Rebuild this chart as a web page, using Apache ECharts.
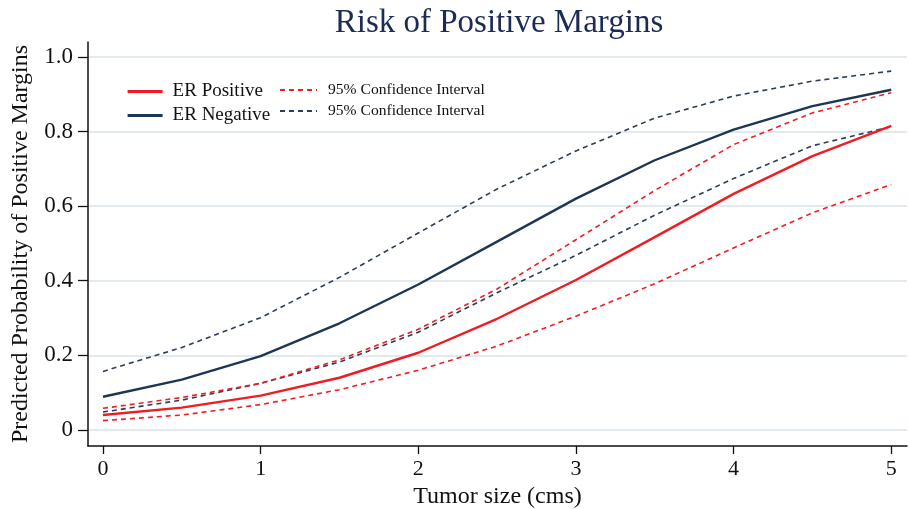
<!DOCTYPE html>
<html>
<head>
    <meta charset="utf-8">
    <title>Risk of Positive Margins</title>
    <script src="https://cdn.jsdelivr.net/npm/echarts@6/dist/echarts.min.js"></script>
    <style>
        html, body { margin: 0; padding: 0; background: #fff; }
        #chart { width: 910px; height: 509px; }
    </style>
</head>
<body>
<div id="chart"></div>
<script type="text/javascript">

    // tumor size (cms)
    var sizes = [0, 0.5, 1, 1.5, 2, 2.5, 3, 3.5, 4, 4.5, 5];
    var xTicks = [0, 1, 2, 3, 4, 5];
    var yTicks = [0, 0.2, 0.4, 0.6, 0.8, 1.0];

    // predicted probability, ER positive
    var erPos   = [0.040, 0.060, 0.092, 0.140, 0.207, 0.298, 0.402, 0.517, 0.633, 0.734, 0.815];
    var erPosLo = [0.025, 0.040, 0.068, 0.108, 0.160, 0.225, 0.305, 0.392, 0.488, 0.582, 0.658];
    var erPosHi = [0.058, 0.087, 0.125, 0.188, 0.270, 0.378, 0.510, 0.642, 0.765, 0.850, 0.904];

    // predicted probability, ER negative
    var erNeg   = [0.089, 0.135, 0.198, 0.286, 0.390, 0.505, 0.620, 0.723, 0.805, 0.868, 0.912];
    var erNegLo = [0.048, 0.080, 0.125, 0.182, 0.262, 0.368, 0.468, 0.576, 0.674, 0.762, 0.813];
    var erNegHi = [0.157, 0.221, 0.301, 0.409, 0.528, 0.646, 0.748, 0.836, 0.895, 0.935, 0.962];

    var RED = '#ee1d23';
    var NAVY = '#1e3656';
    var NAVY_DASH = '#2c3e56';
    var SERIF = '"Liberation Serif", "DejaVu Serif", serif';

    function pairs(ys) {
        var out = [];
        for (var i = 0; i < sizes.length; i++) out.push([sizes[i], ys[i]]);
        return out;
    }

    function line(name, ys, color, dashed) {
        return {
            name: name,
            type: 'line',
            data: pairs(ys),
            symbol: 'none',
            smooth: false,
            silent: true,
            lineStyle: dashed
                ? { color: color, width: 1.6, type: [5, 4] }
                : { color: color, width: 2.4 },
            itemStyle: { color: color }
        };
    }

    var myChart = echarts.init(document.getElementById('chart'));

    // legend: line only, no dot in the middle
    var legendDot = { opacity: 0, borderWidth: 0 };

    var option = {
        animation: false,
        backgroundColor: '#fff',
        title: {
            text: 'Risk of Positive Margins',
            left: 494,
            top: 2,
            textAlign: 'center',
            textStyle: { fontFamily: SERIF, fontSize: 33, fontWeight: 'normal', color: '#1c2b55' }
        },
        legend: [{
            data: ['ER Positive', 'ER Negative'],
            orient: 'vertical',
            left: 121,
            top: 77,
            itemWidth: 35,
            itemHeight: 14,
            itemGap: 5,
            itemStyle: legendDot,
            lineStyle: { width: 3.2 },
            textStyle: { fontFamily: SERIF, fontSize: 19, color: '#111', padding: [0, 0, 0, 5] }
        }, {
            data: ['ER Positive CI', 'ER Negative CI'],
            orient: 'vertical',
            left: 274,
            top: 77,
            itemWidth: 37,
            itemHeight: 14,
            itemGap: 5,
            itemStyle: legendDot,
            lineStyle: { width: 2 },
            formatter: function () { return '95% Confidence Interval'; },
            textStyle: { fontFamily: SERIF, fontSize: 15.6, color: '#111', padding: [3, 0, 0, 6], height: 19 }
        }],
        grid: { left: 88, right: 3, top: 42, bottom: 63, outerBoundsMode: 'none' },
        xAxis: {
            type: 'value',
            min: -0.095,
            max: 5.1,
            name: 'Tumor size (cms)',
            nameLocation: 'middle',
            nameGap: 37,
            nameTextStyle: { fontFamily: SERIF, fontSize: 24, color: '#111' },
            axisLine: { onZero: false, lineStyle: { color: '#111', width: 1.5 } },
            axisTick: { customValues: xTicks, length: 8, lineStyle: { color: '#111', width: 1.3 } },
            axisLabel: { customValues: xTicks, margin: 12, fontFamily: SERIF, fontSize: 22, color: '#111' },
            splitLine: { show: false }
        },
        yAxis: {
            type: 'value',
            min: -0.043,
            max: 1.04,
            name: 'Predicted Probability of Positive Margins',
            nameLocation: 'middle',
            nameGap: 55,
            nameTextStyle: { fontFamily: SERIF, fontSize: 24, color: '#111' },
            axisLine: { show: true, onZero: false, lineStyle: { color: '#111', width: 1.5 } },
            axisTick: { show: true, customValues: yTicks, length: 10, lineStyle: { color: '#111', width: 1.3 } },
            axisLabel: {
                customValues: yTicks,
                margin: 15,
                fontFamily: SERIF,
                fontSize: 23,
                color: '#111',
                formatter: function (v) { return v === 0 ? '0' : v.toFixed(1); }
            },
            splitLine: { show: true, lineStyle: { color: '#e3eaee', width: 2 } }
        },
        series: [
            line('ER Negative CI', erNegHi, NAVY_DASH, true),
            line('ER Negative CI', erNegLo, NAVY_DASH, true),
            line('ER Positive CI', erPosHi, RED, true),
            line('ER Positive CI', erPosLo, RED, true),
            line('ER Negative', erNeg, NAVY, false),
            line('ER Positive', erPos, RED, false)
        ]
    };

    myChart.setOption(option);
</script>
</body>
</html>
